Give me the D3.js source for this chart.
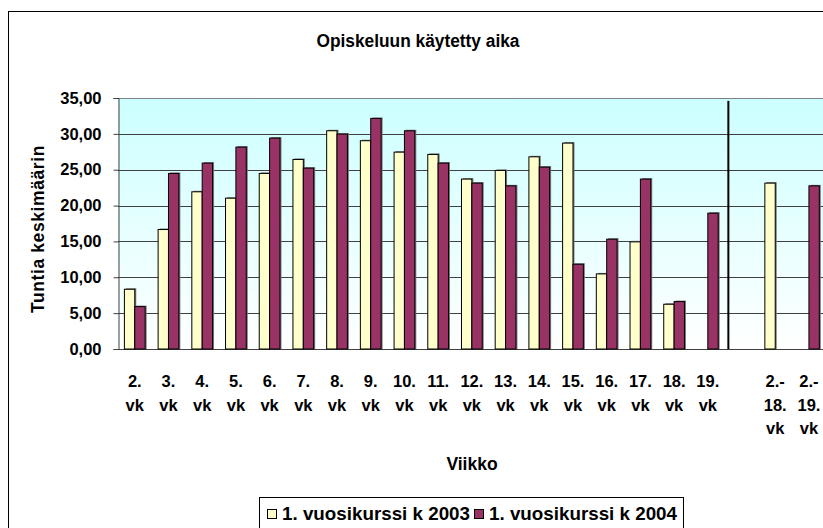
<!DOCTYPE html>
<html><head><meta charset="utf-8">
<script src="https://cdn.jsdelivr.net/npm/d3@7"></script>
<style>
html,body{margin:0;padding:0;background:#fff;}
svg{display:block;font-family:"Liberation Sans",Arial,sans-serif;font-weight:bold;}
</style></head>
<body>
<svg id="chart" width="823" height="528"></svg>
<script>
const title = "Opiskeluun käytetty aika";
const yTitle = "Tuntia keskimäärin";
const xTitle = "Viikko";
const categories = ["2.|vk","3.|vk","4.|vk","5.|vk","6.|vk","7.|vk","8.|vk","9.|vk","10.|vk","11.|vk","12.|vk","13.|vk","14.|vk","15.|vk","16.|vk","17.|vk","18.|vk","19.|vk","","2.-|18.|vk","2.-|19.|vk"];
const seriesNames = ["1. vuosikurssi k 2003","1. vuosikurssi k 2004"];
const values2003 = [8.33,16.66,21.92,21.03,24.48,26.43,30.43,29.04,27.45,27.13,23.69,24.90,26.80,28.71,10.47,14.94,6.24,null,null,23.13,null];
const values2004 = [5.91,24.48,25.92,28.15,29.41,25.22,29.97,32.15,30.43,25.92,23.13,22.75,25.36,11.82,15.31,23.69,6.61,18.94,null,null,22.75];
const yTicks = [0,5,10,15,20,25,30,35];
const dividerAfter = ""; // divider sits in the spacer category
const colors = ["#FFFFCC","#993366"];

const svg = d3.select("#chart");
const plot = {left:118, top:98, bottom:349, right:825.7};

// outer chart border
svg.append("rect").attr("x",8.5).attr("y",11.5).attr("width",840).attr("height",540)
  .attr("fill","#fff").attr("stroke","#000").attr("stroke-width",1);

const x = d3.scaleBand().domain(d3.range(categories.length)).range([plot.left, plot.right])
  .paddingInner(0.385).paddingOuter(0.19);
const xs = d3.scaleBand().domain([0,1]).range([0, x.bandwidth()]);
const y = d3.scaleLinear().domain([0,35]).range([plot.bottom, plot.top]);

// background gradient
const defs = svg.append("defs");
const grad = defs.append("linearGradient").attr("id","bg").attr("x1",0).attr("y1",0).attr("x2",0).attr("y2",1);
grad.append("stop").attr("offset","0%").attr("stop-color","#CCFFFF");
grad.append("stop").attr("offset","100%").attr("stop-color","#FFFFFF");
svg.append("rect").attr("x",plot.left).attr("y",plot.top).attr("width",plot.right-plot.left)
  .attr("height",plot.bottom-plot.top).attr("fill","url(#bg)");

// gridlines
svg.append("g").selectAll("line").data(yTicks.filter(t=>t>0)).join("line")
  .attr("x1",plot.left).attr("x2",plot.right)
  .attr("y1",d=>Math.round(y(d))+0.5).attr("y2",d=>Math.round(y(d))+0.5)
  .attr("stroke",d=>d===35?"#808080":"#404040").attr("stroke-width",1);

// y axis
const fmt = d => d3.format(".2f")(d).replace(".",",");
const yAxis = svg.append("g").attr("transform",`translate(${plot.left+0.5},0)`)
  .call(d3.axisLeft(y).tickValues(yTicks).tickFormat(fmt).tickSizeOuter(0).tickSize(5).tickPadding(12));
yAxis.select(".domain").attr("stroke","#404040");
yAxis.selectAll(".tick line").attr("stroke","#404040");
yAxis.selectAll(".tick text").attr("font-size",16.5).attr("font-weight","bold")
  .attr("font-family","Liberation Sans, Arial, sans-serif").attr("fill","#000");

// x axis baseline
svg.append("line").attr("x1",plot.left).attr("x2",plot.right)
  .attr("y1",plot.bottom+0.5).attr("y2",plot.bottom+0.5).attr("stroke","#404040");

// divider line in spacer category
const spacerIdx = categories.indexOf(dividerAfter);
const divX = x(spacerIdx)-x.step()*x.paddingInner()/2+3.7;
svg.append("line")
  .attr("x1",divX).attr("x2",divX)
  .attr("y1",y(34.6)).attr("y2",plot.bottom)
  .attr("stroke","#000").attr("stroke-width",2);

// bars
const series = [values2003, values2004];
series.forEach((vals, si) => {
  const data = vals.map((v,i)=>({i,v})).filter(d=>d.v!=null);
  const g = svg.append("g");
  g.selectAll("rect.sh").data(data).join("rect").attr("class","sh")
    .attr("x",d=>x(d.i)+xs(si)+1.5).attr("y",d=>y(d.v)-1)
    .attr("width",xs.bandwidth()).attr("height",d=>plot.bottom-y(d.v)+1)
    .attr("fill","#777");
  g.selectAll("rect.bar").data(data).join("rect").attr("class","bar")
    .attr("x",d=>x(d.i)+xs(si)).attr("y",d=>y(d.v))
    .attr("width",xs.bandwidth()).attr("height",d=>plot.bottom-y(d.v))
    .attr("fill",colors[si]).attr("stroke","#000").attr("stroke-width",1);
});

// x labels
const xl = svg.append("g");
categories.forEach((c,i)=>{
  if(!c) return;
  const lines = c.split("|");
  const t = xl.append("text").attr("text-anchor","middle").attr("font-size",16.5)
    .attr("font-weight","bold").attr("fill","#000");
  lines.forEach((ln,k)=>{
    t.append("tspan").attr("x",x(i)+x.bandwidth()/2).attr("y",387+k*23.7).text(ln);
  });
});

// titles
svg.append("text").attr("x",418).attr("y",47).attr("text-anchor","middle")
  .attr("font-size",17.5).attr("font-weight","bold")
  .attr("textLength",203).attr("lengthAdjust","spacingAndGlyphs").text(title);
svg.append("text").attr("transform","translate(44,229) rotate(-90)").attr("text-anchor","middle")
  .attr("font-size",17.5).attr("font-weight","bold").attr("letter-spacing",0.6).text(yTitle);
svg.append("text").attr("x",472).attr("y",470).attr("text-anchor","middle")
  .attr("font-size",17.5).attr("font-weight","bold").text(xTitle);

// legend
const lg = svg.append("g");
lg.append("rect").attr("x",259.5).attr("y",497.5).attr("width",424).attr("height",40)
  .attr("fill","#fff").attr("stroke","#000");
const legX = [267, 474];
seriesNames.forEach((n,i)=>{
  lg.append("rect").attr("x",legX[i]+0.5).attr("y",509.5).attr("width",9).attr("height",9)
    .attr("fill",colors[i]).attr("stroke","#000");
  lg.append("text").attr("x",legX[i]+15).attr("y",520).attr("font-size",17.5)
    .attr("font-weight","bold").attr("textLength",188).attr("lengthAdjust","spacingAndGlyphs").text(n);
});
</script>
</body></html>
